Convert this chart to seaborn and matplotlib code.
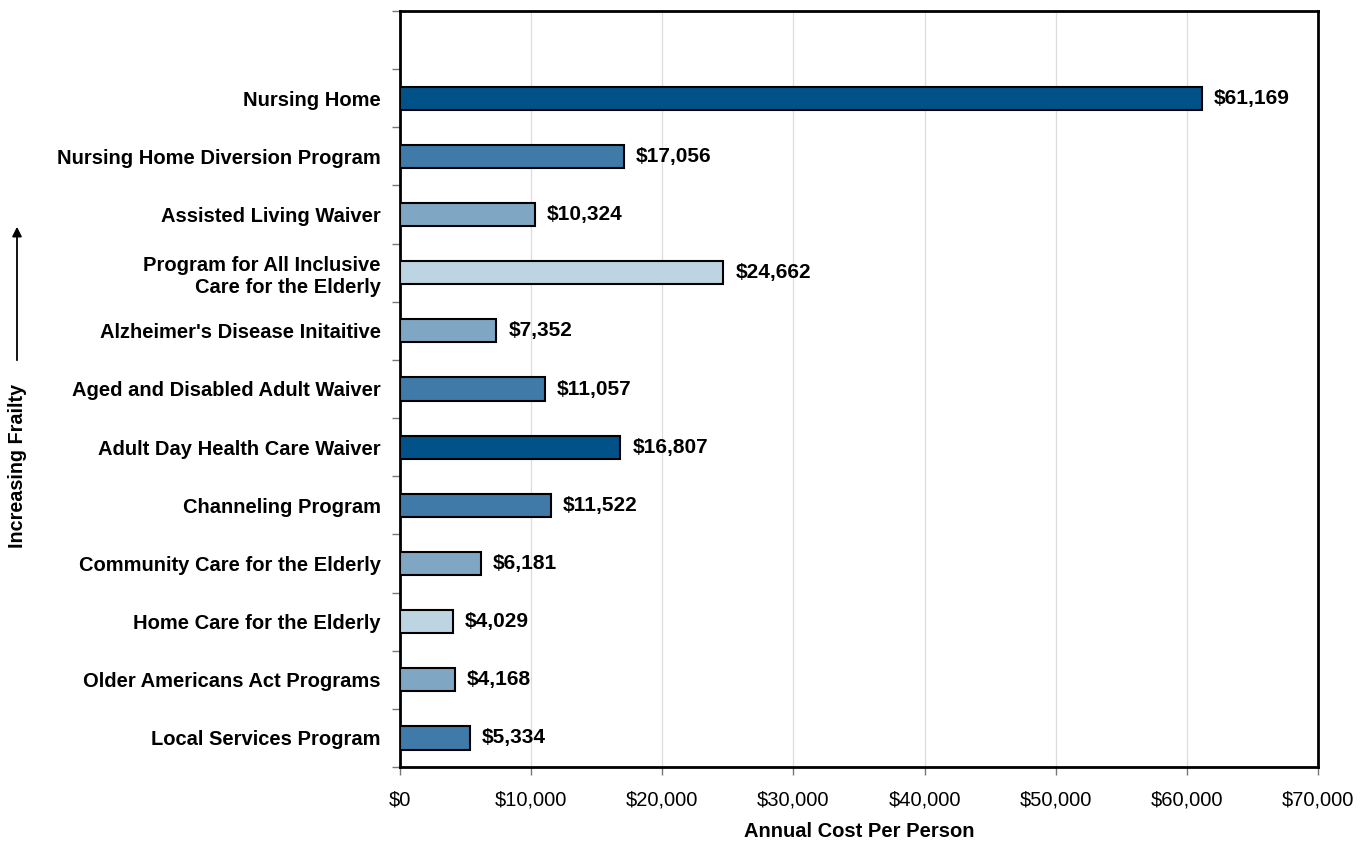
import matplotlib
matplotlib.use("Agg")
import matplotlib.pyplot as plt
import seaborn as sns
import pandas as pd
import numpy as np
from matplotlib.ticker import FuncFormatter, FixedLocator

programs = [
    "Nursing Home",
    "Nursing Home Diversion Program",
    "Assisted Living Waiver",
    "Program for All Inclusive\nCare for the Elderly",
    "Alzheimer's Disease Initaitive",
    "Aged and Disabled Adult Waiver",
    "Adult Day Health Care Waiver",
    "Channeling Program",
    "Community Care for the Elderly",
    "Home Care for the Elderly",
    "Older Americans Act Programs",
    "Local Services Program",
]
annual_cost = [61169, 17056, 10324, 24662, 7352, 11057, 16807, 11522, 6181, 4029, 4168, 5334]
shade = ["dark", "medium", "light-medium", "light", "light-medium", "medium",
         "dark", "medium", "light-medium", "light", "light-medium", "medium"]

palette = {
    "dark": "#02528A",
    "medium": "#3F7AA8",
    "light-medium": "#7FA7C4",
    "light": "#BDD4E2",
}

sns.set_theme(style="white")
plt.rcParams["font.family"] = ["Liberation Sans", "DejaVu Sans"]
plt.rcParams["text.color"] = "black"
plt.rcParams["xtick.color"] = "black"
plt.rcParams["ytick.color"] = "black"
plt.rcParams["axes.labelcolor"] = "black"

df = pd.DataFrame({"program": programs, "cost": annual_cost, "shade": shade})

fig = plt.figure(figsize=(13.68, 8.41), dpi=100)
ax = fig.add_axes([400 / 1368, 1 - 767 / 841, 918 / 1368, 756 / 841])

sns.barplot(data=df, y="program", x="cost", hue="shade", palette=palette,
            orient="h", dodge=False, width=0.4, saturation=1, edgecolor="black",
            linewidth=1.5, legend=False, ax=ax, zorder=3)

ax.set_xlim(0, 70000)
ax.set_ylim(len(programs) - 0.5, -1.5)

ax.xaxis.set_major_locator(FixedLocator(np.arange(0, 70001, 10000)))
ax.xaxis.set_major_formatter(FuncFormatter(lambda v, _: f"${v:,.0f}"))
ax.grid(axis="x", color="#dddddd", linewidth=0.9, zorder=0)
ax.set_axisbelow(True)

ax.yaxis.set_minor_locator(FixedLocator(np.arange(-1.5, len(programs), 1.0)))
ax.tick_params(axis="y", which="major", length=0, pad=14, labelsize=14.5)
ax.tick_params(axis="y", which="minor", left=True, length=6, width=1, color="#777777")
ax.tick_params(axis="x", which="major", bottom=True, length=6, width=1,
               color="#777777", labelcolor="black", labelsize=14.5, pad=11)
for lbl in ax.get_yticklabels():
    lbl.set_fontweight("bold")
    lbl.set_horizontalalignment("right")
    lbl.set_multialignment("right")

for spine in ax.spines.values():
    spine.set_visible(True)
    spine.set_color("black")
    spine.set_linewidth(2)

for i, v in enumerate(annual_cost):
    ax.text(v + 900, i, f"${v:,}", va="center", ha="left",
            fontsize=15, fontweight="bold", color="black")

ax.set_ylabel("")
ax.set_xlabel("Annual Cost Per Person", fontsize=14.5, fontweight="bold", labelpad=9)

# Side annotation: frailty increases upward
fig.text(18 / 1368, 1 - 466 / 841, "Increasing Frailty", rotation=90,
         ha="center", va="center", fontsize=14.2, fontweight="bold")
fig.add_artist(matplotlib.patches.FancyArrowPatch(
    (17 / 1368, 1 - 363 / 841), (17 / 1368, 1 - 224 / 841),
    transform=fig.transFigure, arrowstyle="-|>", mutation_scale=14,
    color="black", linewidth=1.3))

fig.savefig("out.png", dpi=100)
